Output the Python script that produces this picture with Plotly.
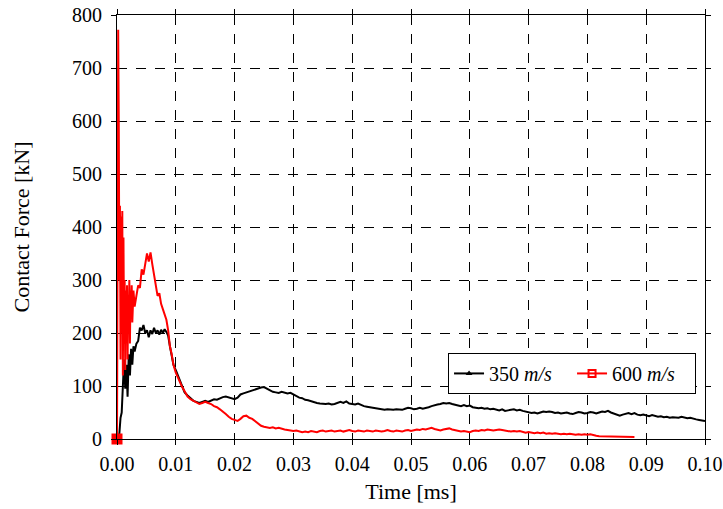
import plotly.graph_objects as go

# ---------------- data ----------------
# 350 m/s, early part (explicit times, ms)
t350_early = [0.0, 0.0002, 0.0004, 0.0006, 0.0008, 0.0010, 0.0012, 0.0014, 0.0016,
              0.0018, 0.0020, 0.0022, 0.0024, 0.0026, 0.0028, 0.0030, 0.0033, 0.0036,
              0.0039, 0.0042, 0.0045, 0.0048, 0.0051, 0.0054, 0.0057, 0.0060, 0.0063,
              0.0066, 0.0069, 0.0072, 0.0075, 0.0078, 0.0081, 0.0084, 0.0087, 0.0090,
              0.0093, 0.0096]
f350_early = [0, 0, 10, 40, 50, 110, 150, 95, 140, 80, 160, 120, 170, 140, 175, 165, 180, 185,
              210, 205, 215, 200, 205, 192, 205, 198, 210, 200, 205, 197, 206, 200, 207, 202,
              195, 175, 155, 140]
# 350 m/s, from 0.010 ms to 0.100 ms every 0.0005 ms
f350_late = [130, 115, 100, 88, 82, 76, 72, 70, 68, 70, 72, 70, 73, 75, 74, 77, 79, 80, 78, 76,
             75, 78, 84, 86, 88, 90, 92, 94, 95, 97, 98, 95, 92, 89, 88, 87, 89, 88, 86, 87,
             84, 80, 78, 77, 74, 73, 71, 70, 68, 67, 66, 66, 67, 65, 66, 68, 70, 68, 71, 67,
             66, 65, 67, 64, 62, 61, 60, 58, 57, 56, 55, 55, 56, 55, 55, 56, 55, 55, 57, 59,
             58, 56, 57, 59, 57, 58, 60, 62, 64, 65, 66, 68, 67, 68, 66, 65, 63, 62, 64, 62,
             63, 60, 59, 58, 59, 57, 58, 56, 57, 55, 54, 56, 53, 54, 55, 56, 54, 55, 53, 52,
             50, 49, 50, 48, 50, 52, 51, 52, 51, 49, 50, 48, 49, 50, 48, 47, 49, 51, 50, 48,
             49, 51, 50, 48, 50, 52, 51, 53, 50, 48, 46, 44, 46, 48, 49, 47, 49, 46, 45, 46,
             44, 43, 45, 43, 42, 43, 41, 42, 40, 41, 41, 40, 42, 40, 39, 40, 38, 37, 36, 35,
             34]

# 600 m/s, early part
t600_early = [0.0, 0.0001, 0.0002, 0.0003, 0.0004, 0.0005, 0.0006, 0.0007, 0.0008, 0.0009,
              0.0010, 0.0011, 0.0012, 0.0013, 0.0014, 0.0015, 0.0016, 0.0017, 0.0018, 0.0019,
              0.0020, 0.0021, 0.0022, 0.0023, 0.0024, 0.0025, 0.0026, 0.0028, 0.0030, 0.0033,
              0.0036, 0.0039, 0.0042, 0.0045, 0.0048, 0.0051, 0.0054, 0.0057, 0.0060, 0.0063,
              0.0066, 0.0069, 0.0072, 0.0075, 0.0078, 0.0081, 0.0084, 0.0087, 0.0090, 0.0093,
              0.0096]
f600_early = [0, 500, 772, 600, 300, 440, 150, 420, 200, 430, 120, 380, 180, 300, 130, 280,
              200, 290, 150, 270, 230, 300, 180, 280, 240, 290, 220, 280, 250, 270, 290, 285,
              320, 310, 330, 350, 335, 352, 330, 310, 290, 270, 275, 255, 245, 235, 225, 205,
              175, 160, 140]
# 600 m/s, from 0.010 ms to 0.088 ms every 0.0005 ms
f600_late = [125, 112, 100, 90, 80, 75, 72, 68, 66, 68, 70, 68, 66, 62, 60, 56, 52, 47, 42, 38,
             36, 34, 38, 43, 44, 40, 38, 34, 30, 25, 23, 22, 21, 22, 20, 21, 19, 18, 17, 16,
             15, 16, 14, 13, 14, 13, 15, 14, 13, 15, 16, 14, 15, 16, 14, 15, 16, 14, 15, 17,
             15, 14, 16, 15, 14, 16, 15, 14, 16, 15, 14, 15, 17, 15, 14, 16, 15, 14, 16, 17,
             15, 16, 18, 17, 19, 18, 20, 21, 19, 17, 16, 18, 19, 20, 18, 17, 16, 14, 15, 14,
             13, 15, 16, 15, 17, 16, 18, 17, 16, 17, 18, 17, 16, 15, 14, 15, 14, 15, 13, 12,
             13, 12, 11, 12, 11, 12, 10, 11, 10, 11, 10, 9, 10, 9, 10, 9, 8, 9, 8, 9,
             8, 9, 7, 6, 5, 5, 4, 4, 4, 4, 4, 4, 4, 4, 4, 4, 4]

series_names = ["350 <i>m/s</i>", "600 <i>m/s</i>"]
x_ticks = [0.00, 0.01, 0.02, 0.03, 0.04, 0.05, 0.06, 0.07, 0.08, 0.09, 0.10]
y_ticks = [0, 100, 200, 300, 400, 500, 600, 700, 800]
x_range = [0, 0.10]
y_range = [0, 800]

# sampling grid of the later parts (time axis only)
t350_late = [round(0.010 + 0.0005 * i, 4) for i in range(len(f350_late))]
t600_late = [round(0.010 + 0.0005 * i, 4) for i in range(len(f600_late))]

t350 = t350_early + t350_late
f350 = f350_early + f350_late
t600 = t600_early + t600_late
f600 = f600_early + f600_late

FONT = "Liberation Serif"
fig = go.Figure()

# curves
fig.add_trace(go.Scatter(x=t350, y=f350, mode="lines", line=dict(color="black", width=2),
                         showlegend=False, hoverinfo="skip"))
fig.add_trace(go.Scatter(x=t600, y=f600, mode="lines", line=dict(color="#ff0000", width=2),
                         showlegend=False, hoverinfo="skip"))
# start markers
fig.add_trace(go.Scatter(x=[t350[0]], y=[f350[0]], mode="markers",
                         marker=dict(symbol="triangle-up", size=7, color="black"),
                         showlegend=False, cliponaxis=False))
fig.add_trace(go.Scatter(x=[t600[0]], y=[f600[0]], mode="markers",
                         marker=dict(symbol="square", size=11, color="#ff0000"),
                         showlegend=False, cliponaxis=False))
# legend entries
fig.add_trace(go.Scatter(x=[None], y=[None], mode="lines+markers", name=series_names[0],
                         line=dict(color="black", width=2),
                         marker=dict(symbol="triangle-up", size=6, color="black")))
fig.add_trace(go.Scatter(x=[None], y=[None], mode="lines+markers", name=series_names[1],
                         line=dict(color="#ff0000", width=2),
                         marker=dict(symbol="square-open", size=7, color="#ff0000",
                                     line=dict(width=2))))

axis_common = dict(
    showline=True, linecolor="black", linewidth=1, mirror="ticks",
    ticks="outside", ticklen=5, tickcolor="black", automargin=False,
    showgrid=True, gridcolor="black", gridwidth=1, griddash="10px,9px",
    zeroline=False, tickfont=dict(family=FONT, size=20, color="black"),
)
inner_ticks = dict(
    ticks="inside", ticklen=5, tickcolor="black", showticklabels=False, showgrid=False,
    showline=False, zeroline=False, mirror="ticks", automargin=False,
)

fig.update_layout(
    width=723, height=509,
    margin=dict(l=117, r=18, t=15, b=70),
    paper_bgcolor="white", plot_bgcolor="white",
    font=dict(family=FONT, color="black"),
    xaxis=dict(range=x_range, tickvals=x_ticks, tickformat=".2f", ticklabelstandoff=2,
               title=dict(text="Time [ms]", font=dict(family=FONT, size=22, color="black"),
                          standoff=9),
               **axis_common),
    yaxis=dict(range=y_range, tickvals=y_ticks, ticklabelstandoff=5,
               title=dict(text="Contact Force [kN]", font=dict(family=FONT, size=22, color="black"),
                          standoff=36),
               **axis_common),
    xaxis2=dict(overlaying="x", range=x_range, tickvals=x_ticks, **inner_ticks),
    yaxis2=dict(overlaying="y", range=y_range, tickvals=y_ticks, **inner_ticks),
    legend=dict(orientation="h", x=0.563, y=0.203, xanchor="left", yanchor="top",
                bgcolor="white", bordercolor="black", borderwidth=1,
                font=dict(family=FONT, size=20, color="black"),
                entrywidth=78, tracegroupgap=0),
)

fig.write_html("out.html")
